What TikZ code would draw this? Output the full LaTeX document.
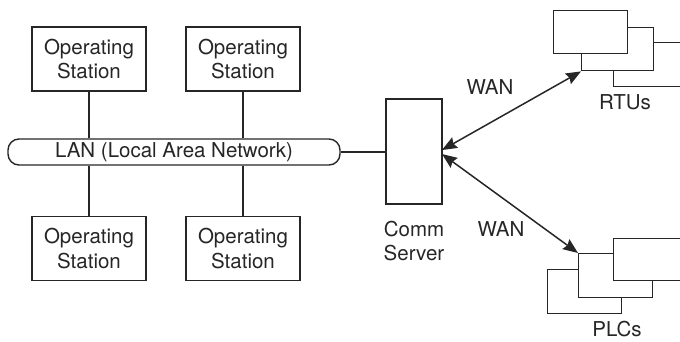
\documentclass[tikz,border=0pt]{standalone}
\usepackage{fontspec}
\setmainfont{TeX Gyre Heros}
\usetikzlibrary{arrows.meta}
\definecolor{ink}{HTML}{262626}
\tikzset{
  wire/.style={draw=ink, line width=1.3pt},
  stationbox/.style={draw=ink, line width=1.4pt, fill=white, minimum width=114pt, minimum height=64pt,
    align=center, font=\fontsize{20.5}{24.5}\selectfont, inner sep=0pt, text=ink},
  devbox/.style={draw=ink, line width=1.4pt, fill=white, inner sep=0pt, anchor=north west},
  lbl/.style={font=\fontsize{20.5}{24.5}\selectfont, align=center, inner sep=0pt, text=ink},
  wanlink/.style={draw=ink, line width=1.5pt, {Stealth[length=15pt,width=12pt,inset=2pt]}-{Stealth[length=15pt,width=12pt,inset=2pt]}}
}
\begin{document}
\begin{tikzpicture}[x=1pt,y=-1pt]
\useasboundingbox (0,0) rectangle (680,341);

% operating stations
\node[stationbox] (os1) at (89,59) {Operating\\Station};
\node[stationbox] (os2) at (243,59) {Operating\\Station};
\node[stationbox] (os3) at (89,248.5) {Operating\\Station};
\node[stationbox] (os4) at (243,248.5) {Operating\\Station};

% LAN bus
\node[draw=ink, line width=1.4pt, rounded corners=11pt, minimum width=332pt, minimum height=26pt,
  inner sep=0pt, text=ink, font=\fontsize{20.5}{24.5}\selectfont] (lan) at (174,152) {LAN (Local Area Network)};

\draw[wire] (os1.south) -- (os1.south |- lan.north);
\draw[wire] (os2.south) -- (os2.south |- lan.north);
\draw[wire] (os3.north) -- (os3.north |- lan.south);
\draw[wire] (os4.north) -- (os4.north |- lan.south);

% communication server
\node[draw=ink, line width=1.4pt, minimum width=56pt, minimum height=105pt, inner sep=0pt] (srv) at (414,151.5) {};
\draw[wire] (lan.east) -- (lan.east -| srv.west);
\node[lbl] (srvlbl) at (414,241) {Comm\\Server};
\coordinate (srvA) at (442,150);
\coordinate (srvB) at (442,154);

% RTUs (front box top-left)
\node[devbox, minimum width=74pt, minimum height=44pt] (rtu3) at (613,42) {};
\node[devbox, minimum width=72pt, minimum height=43pt] (rtu2) at (581,27) {};
\node[devbox, minimum width=74pt, minimum height=43pt] (rtu1) at (553,10) {};
\node[lbl] (rtulbl) at (625,102) {RTUs};

% PLCs (front box top-right)
\node[devbox, minimum width=74pt, minimum height=44pt] (plc3) at (547,269) {};
\node[devbox, minimum width=74pt, minimum height=44pt] (plc2) at (578,253) {};
\node[devbox, minimum width=74pt, minimum height=42pt] (plc1) at (613,238) {};
\node[lbl] (plclbl) at (617,329) {PLCs};

% WAN links
\draw[wanlink] (srvA) -- (rtu2.south west);
\draw[wanlink] (srvB) -- (plc2.north west);
\node[lbl] (wan1) at (490,87) {WAN};
\node[lbl] (wan2) at (501,229) {WAN};
\end{tikzpicture}
\end{document}
